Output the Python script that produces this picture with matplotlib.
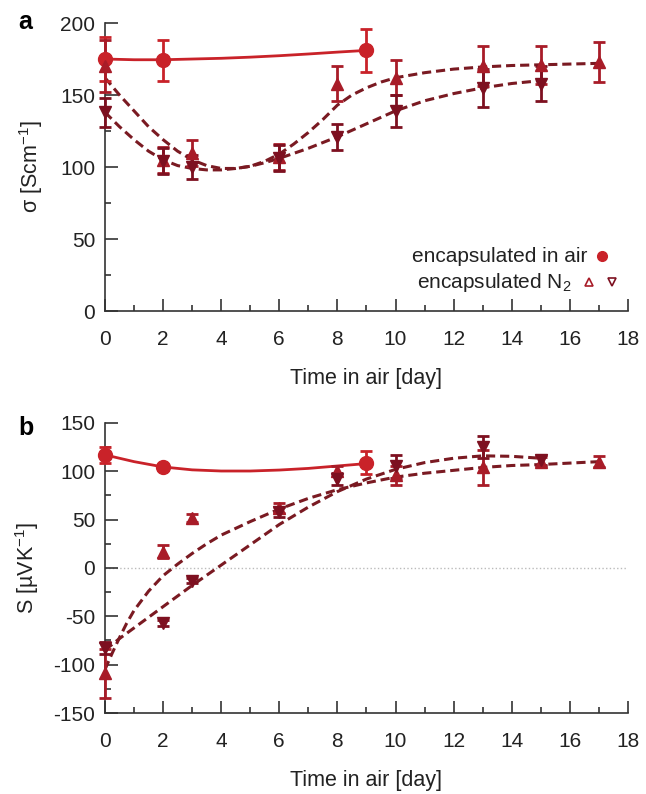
import matplotlib
matplotlib.use("Agg")
import matplotlib.pyplot as plt

plt.rcParams['font.family'] = ['Liberation Sans', 'DejaVu Sans']
plt.rcParams['mathtext.fontset'] = 'custom'
plt.rcParams['mathtext.rm'] = 'Liberation Sans'
plt.rcParams['axes.unicode_minus'] = False

# ---- panel a: conductivity ----
air_days = [0, 2, 9]
air_sigma = [175, 174, 181]
air_sigma_err = [15, 14, 15]

up_days = [0, 2, 3, 6, 8, 10, 13, 15, 17]
up_sigma = [170, 105, 110, 107, 158, 162, 170, 171, 173]
up_sigma_err = [18, 9, 9, 9, 12, 12, 14, 13, 14]

dn_days = [0, 2, 3, 6, 8, 10, 13, 15]
dn_sigma = [138, 104, 100, 106, 121, 139, 155, 158]
dn_sigma_err = [10, 9, 8, 9, 9, 11, 13, 12]

# fitted curves
fit_air_a_x = [0, 1, 2, 3, 4, 5, 6, 7, 8, 9]
fit_air_a_y = [175, 174.5, 174.5, 175, 175.5, 176.3, 177.3, 178.5, 179.8, 181]
fit_up_a_x = [0, 0.5, 1, 1.5, 2, 2.5, 3, 3.5, 4, 4.5, 5, 5.5, 6, 6.5, 7, 7.5, 8, 8.5, 9, 9.5, 10,
              11, 12, 13, 14, 15, 16, 17]
fit_up_a_y = [162, 150, 139, 128, 119, 111, 105, 101, 99, 99, 100.5, 104, 109, 116, 124, 133, 143, 150,
              155, 159, 162, 165.5, 168, 169.5, 170.5, 171, 171.5, 172]
fit_dn_a_x = [0, 0.5, 1, 1.5, 2, 2.5, 3, 3.5, 4, 4.5, 5, 5.5, 6, 6.5, 7, 7.5, 8, 9, 10, 11, 12, 13, 14, 15]
fit_dn_a_y = [138, 128, 119, 111, 105, 101, 99, 98, 98, 99, 100.5, 103, 106, 109.5, 113, 117, 121, 130,
              139, 146, 151, 155, 158, 160]

# ---- panel b: Seebeck ----
air_S = [117, 104, 109]
air_S_err = [8, 3, 12]

up_S = [-109, 17, 52, 62, 100, 96, 104, 110, 110]
up_S_err = [25, 7, 4, 5, 5, 10, 18, 5, 6]

dn_S = [-83, -57, -13, 58, 92, 105, 125, 112]
dn_S_err = [6, 3, 3, 5, 6, 12, 11, 5]

fit_air_b_x = [0, 1, 2, 3, 4, 5, 6, 7, 8, 9]
fit_air_b_y = [117, 110, 104.5, 101.5, 100.3, 100.3, 101.3, 103, 105.5, 108]
fit_up_b_x = [0, 0.25, 0.5, 0.75, 1, 1.5, 2, 2.5, 3, 3.5, 4, 5, 6, 7, 8, 9, 10, 11, 12, 13, 14, 15, 16, 17]
fit_up_b_y = [-105, -88, -72, -57, -44, -24, -8, 4, 15, 25, 34, 48, 61, 72, 81, 88, 94, 98, 101, 104,
              106, 107, 108.5, 110]
fit_dn_b_x = [0, 0.5, 1, 1.5, 2, 3, 4, 5, 6, 7, 8, 9, 10, 11, 12, 13, 14, 15]
fit_dn_b_y = [-85, -73, -62, -51, -40, -18, 3, 24, 45, 63, 79, 92, 102, 109, 113.5, 116, 115.5, 113.5]

day_ticks = [0, 2, 4, 6, 8, 10, 12, 14, 16, 18]

c_air = '#c92229'
c_up = '#a81c28'
c_dn = '#7d1020'
c_fit = '#7a1a22'
c_text = '#222222'

fig = plt.figure(figsize=(6.46, 7.94), dpi=100)
ax_a = fig.add_axes([0.1625, 0.6083, 0.8096, 0.3627])
ax_b = fig.add_axes([0.1625, 0.1020, 0.8096, 0.3653])


def style_axes(ax):
    for side in ('top', 'right'):
        ax.spines[side].set_visible(False)
    for side in ('left', 'bottom'):
        ax.spines[side].set_color('#333333')
        ax.spines[side].set_linewidth(1.2)
    ax.set_xlim(0, 18)
    ax.set_xticks(day_ticks)
    ax.set_xticks(range(1, 18, 2), minor=True)
    ax.tick_params(which='both', direction='in', color='#333333', width=1.2,
                   labelsize=15, labelcolor=c_text)
    ax.tick_params(which='major', length=9)
    ax.tick_params(which='minor', length=4)
    ax.tick_params(axis='x', which='major', pad=14)
    ax.tick_params(axis='y', which='major', pad=7)
    ax.set_xlabel('Time in air [day]', fontsize=15.5, color=c_text, labelpad=13)


def draw(ax, xs, ys, errs, marker, color, ms):
    ax.errorbar(xs, ys, yerr=errs, fmt=marker, color=color, ms=ms, elinewidth=2,
                capsize=4, capthick=2, zorder=4, clip_on=False)


# panel a
style_axes(ax_a)
ax_a.set_ylim(0, 200)
ax_a.set_yticks([0, 50, 100, 150, 200])
ax_a.set_yticks([25, 75, 125, 175], minor=True)
ax_a.set_ylabel('σ [Scm$^{-1}$]', fontsize=15.5, color=c_text, labelpad=11)
ax_a.plot(fit_air_a_x, fit_air_a_y, '-', color=c_air, lw=2, zorder=3)
ax_a.plot(fit_up_a_x, fit_up_a_y, '--', color=c_fit, lw=2.2, dashes=(3, 1.6), zorder=3)
ax_a.plot(fit_dn_a_x, fit_dn_a_y, '--', color=c_fit, lw=2.2, dashes=(3, 1.6), zorder=3)
draw(ax_a, air_days, air_sigma, air_sigma_err, 'o', c_air, 10)
draw(ax_a, up_days, up_sigma, up_sigma_err, '^', c_up, 9)
draw(ax_a, dn_days, dn_sigma, dn_sigma_err, 'v', c_dn, 9)

# legend drawn by hand: text right aligned, markers on the right
ax_a.text(0.923, 0.19, 'encapsulated in air', transform=ax_a.transAxes, ha='right',
          va='center', fontsize=15, color=c_text)
ax_a.text(0.893, 0.10, 'encapsulated N$_2$', transform=ax_a.transAxes, ha='right',
          va='center', fontsize=15, color=c_text)
ax_a.plot([0.950], [0.19], 'o', color=c_air, ms=7, transform=ax_a.transAxes, clip_on=False)
ax_a.plot([0.926], [0.102], '^', mfc='none', mec=c_up, mew=1.2, ms=6,
          transform=ax_a.transAxes, clip_on=False)
ax_a.plot([0.970], [0.102], 'v', mfc='none', mec=c_dn, mew=1.2, ms=6,
          transform=ax_a.transAxes, clip_on=False)

# panel b
style_axes(ax_b)
ax_b.set_ylim(-150, 150)
ax_b.set_yticks([-150, -100, -50, 0, 50, 100, 150])
ax_b.set_yticks([-125, -75, -25, 25, 75, 125], minor=True)
ax_b.set_ylabel('S [µVK$^{-1}$]', fontsize=15.5, color=c_text, labelpad=9)
ax_b.axhline(0, color='#bbbbbb', lw=1, ls=':', zorder=1)
ax_b.plot(fit_air_b_x, fit_air_b_y, '-', color=c_air, lw=2, zorder=3)
ax_b.plot(fit_up_b_x, fit_up_b_y, '--', color=c_fit, lw=2.2, dashes=(3, 1.6), zorder=3)
ax_b.plot(fit_dn_b_x, fit_dn_b_y, '--', color=c_fit, lw=2.2, dashes=(3, 1.6), zorder=3)
draw(ax_b, air_days, air_S, air_S_err, 'o', c_air, 10)
draw(ax_b, up_days, up_S, up_S_err, '^', c_up, 9)
draw(ax_b, dn_days, dn_S, dn_S_err, 'v', c_dn, 9)

fig.text(0.028, 0.972, 'a', fontsize=18, fontweight='bold', va='center')
fig.text(0.028, 0.461, 'b', fontsize=18, fontweight='bold', va='center')

fig.savefig('out.png', dpi=100)
